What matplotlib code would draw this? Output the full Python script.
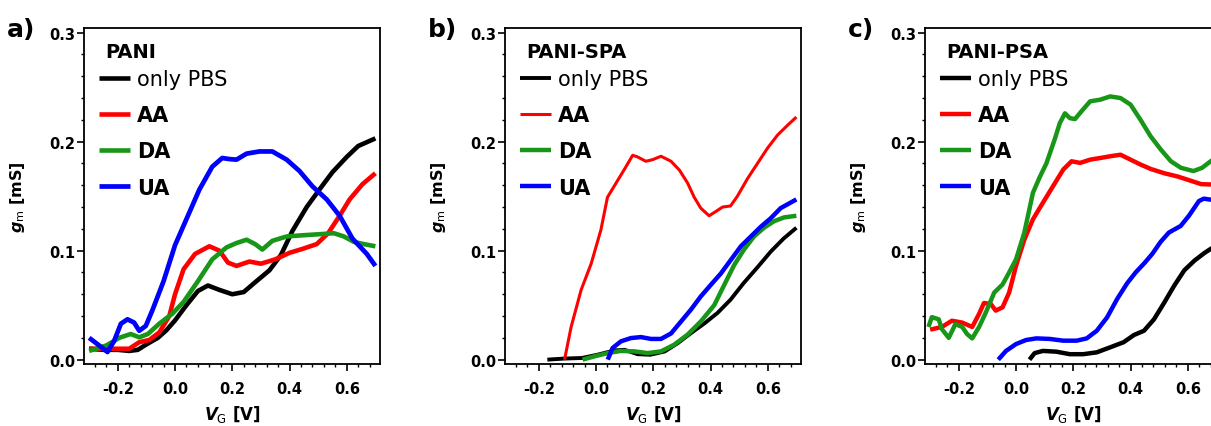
import matplotlib
matplotlib.use("Agg")
import matplotlib.pyplot as plt
from matplotlib.ticker import MultipleLocator, FormatStrFormatter

plt.rcParams['font.family'] = ['DejaVu Sans']
plt.rcParams['mathtext.fontset'] = 'custom'
plt.rcParams['mathtext.it'] = 'DejaVu Sans:italic:bold'
plt.rcParams['mathtext.rm'] = 'DejaVu Sans'

#===================== data =====================

series_names = ["only PBS", "AA", "DA", "UA"]
series_colors = ["#000000", "#ff0000", "#179617", "#0000ff"]
panel_titles = ["PANI", "PANI-SPA", "PANI-PSA"]
panel_letters = ["a)", "b)", "c)"]

# a) PANI
a_pbs_x = [-0.30, -0.25, -0.20, -0.16, -0.13, -0.10, -0.06, -0.03, 0.00, 0.04, 0.08, 0.115, 0.155, 0.20, 0.24, 0.28, 0.33, 0.37, 0.41, 0.46, 0.51, 0.55, 0.60, 0.64, 0.70]
a_pbs_y = [0.010, 0.009, 0.009, 0.008, 0.009, 0.014, 0.020, 0.027, 0.036, 0.050, 0.063, 0.068, 0.064, 0.060, 0.062, 0.071, 0.082, 0.096, 0.118, 0.140, 0.158, 0.172, 0.186, 0.196, 0.203]
a_aa_x = [-0.30, -0.23, -0.16, -0.125, -0.09, -0.055, -0.02, 0.00, 0.03, 0.07, 0.12, 0.155, 0.185, 0.215, 0.26, 0.30, 0.35, 0.40, 0.45, 0.495, 0.535, 0.575, 0.61, 0.655, 0.70]
a_aa_y = [0.010, 0.010, 0.010, 0.016, 0.018, 0.025, 0.040, 0.060, 0.083, 0.097, 0.104, 0.100, 0.089, 0.086, 0.090, 0.088, 0.092, 0.098, 0.102, 0.106, 0.116, 0.132, 0.147, 0.161, 0.171]
a_da_x = [-0.30, -0.24, -0.195, -0.155, -0.125, -0.095, -0.055, -0.01, 0.03, 0.08, 0.13, 0.18, 0.215, 0.25, 0.28, 0.305, 0.34, 0.39, 0.44, 0.50, 0.555, 0.59, 0.625, 0.66, 0.70]
a_da_y = [0.008, 0.013, 0.020, 0.0235, 0.0205, 0.0235, 0.033, 0.042, 0.053, 0.072, 0.092, 0.103, 0.107, 0.110, 0.106, 0.101, 0.109, 0.113, 0.114, 0.115, 0.116, 0.113, 0.108, 0.106, 0.104]
a_ua_x = [-0.30, -0.265, -0.236, -0.213, -0.189, -0.166, -0.143, -0.125, -0.102, -0.078, -0.04, 0.00, 0.04, 0.085, 0.13, 0.165, 0.19, 0.215, 0.25, 0.295, 0.34, 0.39, 0.435, 0.48, 0.53, 0.575, 0.62, 0.67, 0.70]
a_ua_y = [0.020, 0.013, 0.007, 0.017, 0.033, 0.037, 0.034, 0.0265, 0.031, 0.046, 0.072, 0.105, 0.129, 0.156, 0.177, 0.185, 0.184, 0.1835, 0.189, 0.191, 0.191, 0.1835, 0.173, 0.159, 0.147, 0.132, 0.111, 0.097, 0.086]

# b) PANI-SPA
b_pbs_x = [-0.17, -0.11, -0.05, 0.005, 0.065, 0.10, 0.145, 0.19, 0.24, 0.285, 0.33, 0.38, 0.425, 0.47, 0.515, 0.565, 0.61, 0.655, 0.70]
b_pbs_y = [0.000, 0.001, 0.0015, 0.0045, 0.0085, 0.009, 0.005, 0.0045, 0.0075, 0.015, 0.024, 0.0335, 0.043, 0.055, 0.070, 0.085, 0.099, 0.111, 0.121]
b_aa_x = [-0.11, -0.087, -0.052, -0.017, 0.017, 0.04, 0.07, 0.10, 0.128, 0.145, 0.174, 0.198, 0.227, 0.262, 0.291, 0.32, 0.343, 0.366, 0.395, 0.419, 0.442, 0.47, 0.494, 0.529, 0.564, 0.599, 0.634, 0.669, 0.70]
b_aa_y = [0.000, 0.030, 0.064, 0.088, 0.119, 0.149, 0.162, 0.175, 0.1875, 0.186, 0.182, 0.1835, 0.1866, 0.182, 0.174, 0.162, 0.149, 0.139, 0.132, 0.136, 0.140, 0.141, 0.150, 0.166, 0.180, 0.194, 0.206, 0.215, 0.2226]
b_da_x = [-0.047, -0.006, 0.041, 0.087, 0.134, 0.18, 0.227, 0.273, 0.32, 0.366, 0.413, 0.448, 0.483, 0.517, 0.552, 0.587, 0.622, 0.657, 0.70]
b_da_y = [0.000, 0.003, 0.006, 0.008, 0.0076, 0.006, 0.0076, 0.0137, 0.023, 0.035, 0.050, 0.0686, 0.087, 0.101, 0.113, 0.121, 0.127, 0.1305, 0.132]
b_ua_x = [0.041, 0.058, 0.087, 0.122, 0.157, 0.192, 0.227, 0.262, 0.297, 0.331, 0.366, 0.401, 0.436, 0.471, 0.506, 0.541, 0.576, 0.61, 0.645, 0.70]
b_ua_y = [0.000, 0.0107, 0.0168, 0.0198, 0.0207, 0.019, 0.019, 0.024, 0.035, 0.0457, 0.058, 0.0686, 0.079, 0.0915, 0.104, 0.113, 0.122, 0.1296, 0.139, 0.147]

# c) PANI-PSA
c_pbs_x = [0.047, 0.065, 0.094, 0.141, 0.188, 0.235, 0.282, 0.329, 0.376, 0.412, 0.447, 0.482, 0.518, 0.553, 0.588, 0.624, 0.659, 0.70]
c_pbs_y = [0.000, 0.006, 0.008, 0.0073, 0.005, 0.005, 0.0067, 0.0113, 0.016, 0.0226, 0.0265, 0.037, 0.0524, 0.068, 0.082, 0.091, 0.098, 0.105]
c_aa_x = [-0.30, -0.259, -0.224, -0.188, -0.153, -0.129, -0.112, -0.088, -0.071, -0.047, -0.024, 0.0, 0.029, 0.059, 0.094, 0.129, 0.165, 0.194, 0.224, 0.259, 0.294, 0.329, 0.365, 0.40, 0.435, 0.47, 0.518, 0.565, 0.612, 0.647, 0.68, 0.70]
c_aa_y = [0.0275, 0.030, 0.0357, 0.034, 0.030, 0.042, 0.052, 0.051, 0.045, 0.048, 0.0616, 0.086, 0.110, 0.1287, 0.144, 0.159, 0.1744, 0.182, 0.1805, 0.1835, 0.185, 0.1866, 0.188, 0.1835, 0.179, 0.175, 0.171, 0.168, 0.164, 0.161, 0.1607, 0.162]
c_da_x = [-0.306, -0.294, -0.27, -0.259, -0.235, -0.212, -0.188, -0.171, -0.153, -0.129, -0.106, -0.076, -0.047, -0.024, 0.0, 0.029, 0.059, 0.082, 0.106, 0.135, 0.153, 0.171, 0.188, 0.206, 0.229, 0.259, 0.294, 0.329, 0.365, 0.40, 0.435, 0.47, 0.506, 0.541, 0.576, 0.62, 0.65, 0.68, 0.70]
c_da_y = [0.030, 0.039, 0.037, 0.028, 0.020, 0.0326, 0.030, 0.0235, 0.0195, 0.030, 0.043, 0.0616, 0.069, 0.080, 0.092, 0.1165, 0.153, 0.167, 0.180, 0.202, 0.217, 0.226, 0.2216, 0.2207, 0.228, 0.237, 0.2385, 0.2415, 0.240, 0.234, 0.220, 0.205, 0.1927, 0.182, 0.176, 0.173, 0.176, 0.182, 0.186]
c_ua_x = [-0.062, -0.035, 0.0, 0.035, 0.071, 0.118, 0.165, 0.212, 0.247, 0.282, 0.318, 0.353, 0.388, 0.418, 0.45, 0.476, 0.505, 0.534, 0.575, 0.604, 0.639, 0.656, 0.70]
c_ua_y = [0.000, 0.008, 0.0143, 0.018, 0.0195, 0.019, 0.0174, 0.0174, 0.0195, 0.0265, 0.0387, 0.0555, 0.070, 0.080, 0.089, 0.097, 0.108, 0.1166, 0.1226, 0.132, 0.1455, 0.1477, 0.146]

panels = [
    [(a_pbs_x, a_pbs_y), (a_aa_x, a_aa_y), (a_da_x, a_da_y), (a_ua_x, a_ua_y)],
    [(b_pbs_x, b_pbs_y), (b_aa_x, b_aa_y), (b_da_x, b_da_y), (b_ua_x, b_ua_y)],
    [(c_pbs_x, c_pbs_y), (c_aa_x, c_aa_y), (c_da_x, c_da_y), (c_ua_x, c_ua_y)],
]
line_widths = [
    [3.3, 3.3, 3.3, 3.4],
    [2.8, 2.2, 3.2, 3.2],
    [3.2, 3.2, 3.2, 3.2],
]

#===================== figure =====================

fig = plt.figure(figsize=(12.11, 4.27), dpi=100)
ax_lefts = [84/1211, 505/1211, 925/1211]
letter_x = [7/1211, 428/1211, 848/1211]

for k in range(3):
    ax = fig.add_axes([ax_lefts[k], 0.1452, 0.2444, 0.7862])
    for (xs, ys), name, col, lw in zip(panels[k], series_names, series_colors, line_widths[k]):
        ax.plot(xs, ys, color=col, lw=lw, label=name, solid_capstyle='butt',
                solid_joinstyle='round')

    ax.set_xlim(-0.318, 0.716)
    ax.set_ylim(-0.004, 0.304)
    ax.set_xticks([-0.2, 0.0, 0.2, 0.4, 0.6])
    ax.set_yticks([0.0, 0.1, 0.2, 0.3])
    ax.xaxis.set_major_formatter(FormatStrFormatter('%.1f'))
    ax.yaxis.set_major_formatter(FormatStrFormatter('%.1f'))
    ax.xaxis.set_minor_locator(MultipleLocator(0.04))
    ax.yaxis.set_minor_locator(MultipleLocator(0.02))
    ax.tick_params(which='both', direction='out', top=False, right=False)
    ax.tick_params(which='major', length=5, width=1.2, labelsize=10.5)
    ax.tick_params(which='minor', length=2.5, width=1.0)
    ax.tick_params(axis='x', which='major', pad=7)
    ax.tick_params(axis='y', which='major', pad=1.5)
    for lab in ax.get_xticklabels() + ax.get_yticklabels():
        lab.set_fontweight('bold')
    for sp in ax.spines.values():
        sp.set_linewidth(1.3)

    ax.set_xlabel(r'$V_\mathrm{G}$ [V]', fontsize=12, fontweight='bold', va='top')
    ax.set_ylabel(r'$g_\mathrm{m}$ [mS]', fontsize=11.5, fontweight='bold')
    ax.xaxis.set_label_coords(0.5, -0.115)
    ax.yaxis.set_label_coords(-0.193, 0.5)

    ax.text(0.072, 0.932, panel_titles[k], transform=ax.transAxes,
            fontsize=14, fontweight='bold', va='center', ha='left')
    leg = ax.legend(loc='upper left', bbox_to_anchor=(0.052, 0.879), frameon=False,
                    fontsize=15, handlelength=1.45, handletextpad=0.35,
                    labelspacing=0.78, borderpad=0, borderaxespad=0)
    for i, t in enumerate(leg.get_texts()):
        if i > 0:
            t.set_fontweight('bold')

    fig.text(letter_x[k], 1 - 30/427, panel_letters[k], fontsize=18,
             fontweight='bold', va='center', ha='left')

fig.savefig('out.png', dpi=100)
